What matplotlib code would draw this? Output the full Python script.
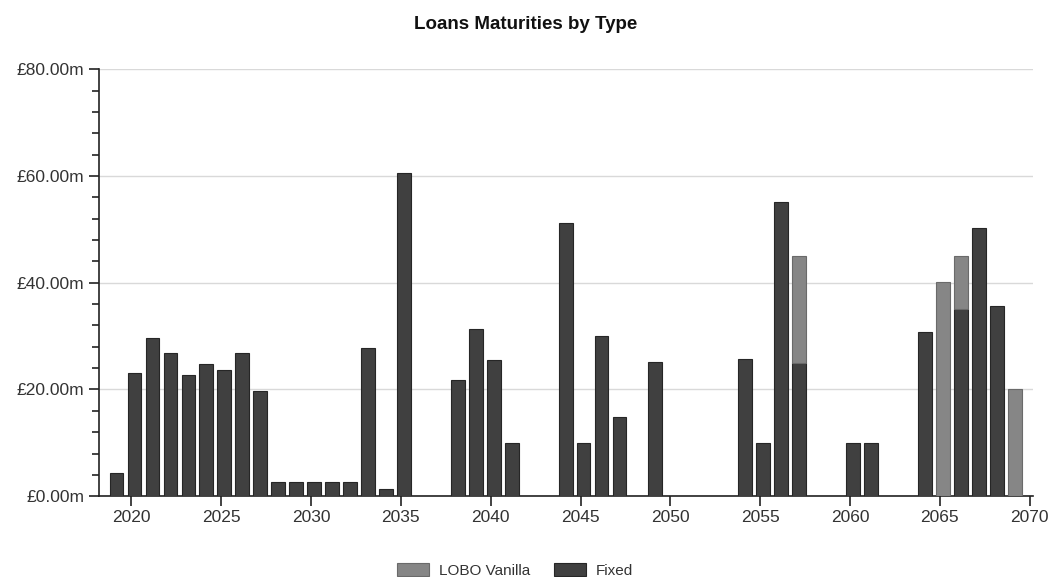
import matplotlib
matplotlib.use('Agg')
import matplotlib.pyplot as plt
from matplotlib.ticker import MultipleLocator, FuncFormatter
from matplotlib.patches import Patch
import numpy as np

plt.rcParams['font.family'] = ['Liberation Sans', 'DejaVu Sans']

# maturity year -> amount (£m)
years = list(range(2019, 2070))
fixed = [4.4, 23.1, 29.6, 26.9, 22.8, 24.7, 23.7, 26.9, 19.8,       # 2019-2027
         2.7, 2.7, 2.7, 2.7, 2.7, 27.7, 1.3, 60.6,                   # 2028-2035
         0, 0, 21.7, 31.3, 25.5, 10.0, 0, 0,                         # 2036-2043
         51.1, 10.0, 30.1, 14.8, 0, 25.1, 0, 0, 0, 0,                # 2044-2053
         25.8, 10.0, 55.2, 25.0, 0, 0, 10.0, 10.0, 0, 0,             # 2054-2063
         30.7, 0, 35.1, 50.2, 35.6, 0]                               # 2064-2069
lobo = [0] * len(years)
lobo[years.index(2057)] = 20.1
lobo[years.index(2065)] = 40.2
lobo[years.index(2066)] = 10.0
lobo[years.index(2069)] = 20.0

series_labels = ['LOBO Vanilla', 'Fixed']
fixed_col = '#404040'
lobo_col = '#868686'
fixed_edge = '#262626'
lobo_edge = '#6a6a6a'

fig = plt.figure(figsize=(10.51, 5.77), dpi=100)
ax = fig.add_axes([0.094, 0.14, 0.889, 0.74])

x = np.array(years) + 0.17
w = 0.77
b_fixed = ax.bar(x, fixed, width=w, color=fixed_col, edgecolor=fixed_edge, linewidth=0.8, zorder=3)
b_lobo = ax.bar(x, lobo, width=w, bottom=fixed, color=lobo_col, edgecolor=lobo_edge, linewidth=0.8, zorder=3)
# hide empty bars' outlines
for rects, vals in ((b_fixed, fixed), (b_lobo, lobo)):
    for r, v in zip(rects, vals):
        if v == 0:
            r.set_visible(False)

ax.set_xlim(2018.18, 2070.2)
ax.set_ylim(0, 80)
ax.yaxis.set_major_locator(MultipleLocator(20))
ax.yaxis.set_minor_locator(MultipleLocator(4))
ax.xaxis.set_major_locator(MultipleLocator(5))
ax.yaxis.set_major_formatter(FuncFormatter(lambda v, p: '£%.2fm' % v))
ax.grid(axis='y', color='#d9d9d9', linewidth=1, zorder=0)

for s in ('top', 'right'):
    ax.spines[s].set_visible(False)
for s in ('left', 'bottom'):
    ax.spines[s].set_color('#222222')
    ax.spines[s].set_linewidth(1.2)
ax.tick_params(axis='both', which='major', length=7, width=1.2, color='#222222',
               labelsize=12.5, labelcolor='#333333')
ax.tick_params(axis='y', which='minor', length=5, width=1.2, color='#222222')
ax.tick_params(axis='x', pad=3)

fig.suptitle('Loans Maturities by Type', y=0.972, fontsize=13.5, fontweight='bold', color='#111111')

handles = [Patch(facecolor=lobo_col, edgecolor=lobo_edge, linewidth=0.8),
           Patch(facecolor=fixed_col, edgecolor=fixed_edge, linewidth=0.8)]
fig.legend(handles, series_labels, loc='lower center', bbox_to_anchor=(0.49, -0.025),
           ncol=2, frameon=False, fontsize=11, handlelength=2.1, handleheight=0.9,
           handletextpad=0.6, columnspacing=1.6, labelcolor='#333333')

fig.savefig('out.png', dpi=100)
